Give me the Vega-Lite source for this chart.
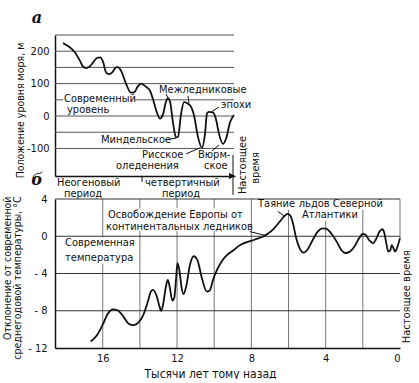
{
  "$schema": "https://vega.github.io/schema/vega-lite/v6.json",
  "padding": {"left": 2, "top": 10, "right": 0, "bottom": 0},
  "bounds": "flush",
  "spacing": 23,
  "config": {
    "view": {"stroke": null},
    "font": "DejaVu Sans Condensed, Liberation Sans Narrow, DejaVu Sans, sans-serif",
    "axis": {"labelFontSize": 11, "labelColor": "#111", "titleFontSize": 10.5, "titleFontWeight": "normal", "titleColor": "#111", "domainColor": "#111", "domainWidth": 1.5, "ticks": false, "grid": false},
    "text": {"fontSize": 11, "color": "#111"}
  },
  "datasets": {
    "seaGrid": [
      {"x": 0, "x2": 179, "y": 250}, {"x": 0, "x2": 179, "y": 200}, {"x": 0, "x2": 179, "y": 150},
      {"x": 0, "x2": 179, "y": 100}, {"x": 0, "x2": 8, "y": 50}, {"x": 80, "x2": 179, "y": 50},
      {"x": 0, "x2": 179, "y": 0}, {"x": 0, "x2": 179, "y": -50}, {"x": 0, "x2": 179, "y": -100}
    ],
    "sea": [
      {"x": 8, "y": 225}, {"x": 14, "y": 214}, {"x": 20, "y": 196}, {"x": 25, "y": 170}, {"x": 28, "y": 153},
      {"x": 31, "y": 148}, {"x": 34, "y": 151}, {"x": 38, "y": 165}, {"x": 42, "y": 179}, {"x": 45, "y": 181},
      {"x": 48, "y": 168}, {"x": 51, "y": 135}, {"x": 54, "y": 129}, {"x": 57, "y": 134}, {"x": 61, "y": 150},
      {"x": 63, "y": 151}, {"x": 66, "y": 140}, {"x": 71, "y": 100}, {"x": 76, "y": 72}, {"x": 79, "y": 73},
      {"x": 83, "y": 92}, {"x": 86, "y": 100}, {"x": 89, "y": 95}, {"x": 92, "y": 88}, {"x": 95, "y": 78},
      {"x": 98, "y": 52}, {"x": 102, "y": 10}, {"x": 105, "y": -8}, {"x": 108, "y": 5}, {"x": 111, "y": 45},
      {"x": 113, "y": 55}, {"x": 115, "y": 45}, {"x": 118, "y": -20}, {"x": 121, "y": -66}, {"x": 123, "y": -64},
      {"x": 126, "y": 5}, {"x": 129, "y": 43}, {"x": 133, "y": 38}, {"x": 136, "y": 29}, {"x": 139, "y": 2},
      {"x": 143, "y": -65}, {"x": 147, "y": -98}, {"x": 150, "y": -55}, {"x": 152, "y": 8}, {"x": 154, "y": 13},
      {"x": 158, "y": 11}, {"x": 161, "y": -10}, {"x": 164, "y": -55}, {"x": 168, "y": -86}, {"x": 171, "y": -70},
      {"x": 175, "y": -20}, {"x": 179, "y": 3}
    ],
    "seaLeaders": [
      {"x": 111, "y": 68, "x2": 113, "y2": 56},
      {"x": 133, "y": 62, "x2": 134, "y2": 39},
      {"x": 164, "y": 28, "x2": 157, "y2": 14},
      {"x": 110, "y": -74, "x2": 121, "y2": -68},
      {"x": 131, "y": -117, "x2": 145, "y2": -98},
      {"x": 157, "y": -108, "x2": 164, "y2": -89},
      {"x": 87, "y": -188, "x2": 87, "y2": -203},
      {"x": 178, "y": -120, "x2": 178, "y2": -243}
    ],
    "seaText": [
      {"x": 9, "y": 53.8, "text": "Современный"},
      {"x": 12, "y": 20, "text": "уровень"},
      {"x": 104, "y": 80, "text": "Межледниковые"},
      {"x": 166, "y": 34, "text": "эпохи"},
      {"x": 46, "y": -74, "text": "Миндельское"},
      {"x": 87, "y": -121.5, "text": "Рисское"},
      {"x": 61, "y": -155.4, "text": "оледенения"},
      {"x": 143, "y": -121.5, "text": "Вюрм-"},
      {"x": 149, "y": -155.4, "text": "ское"},
      {"x": 2, "y": -207.7, "text": "Неогеновый"},
      {"x": 9, "y": -241.5, "text": "период"},
      {"x": 90, "y": -207.7, "text": "четвертичный"},
      {"x": 107, "y": -241.5, "text": "период"}
    ],
    "seaNow": [
      {"x": 188, "y": -151, "text": "Настоящее"},
      {"x": 201, "y": -160, "text": "время"}
    ],
    "letters": [
      {"x": -18, "y": 301, "text": "а"},
      {"x": -18, "y": -197, "text": "б"}
    ],
    "arrow": [{"x": 177, "y": -185}],
    "tHGrid": [
      {"x": 18.57, "x2": 0, "y": 4}, {"x": 18.57, "x2": 0, "y": 0},
      {"x": 18.57, "x2": 0, "y": -4}, {"x": 18.57, "x2": 0, "y": -8}
    ],
    "tVGrid": [
      {"x": 16, "y": -12, "y2": -3.0}, {"x": 16, "y": -0.15, "y2": 4},
      {"x": 14, "y": -12, "y2": 0.55}, {"x": 14, "y": 3.0, "y2": 4},
      {"x": 12, "y": -12, "y2": 0.55}, {"x": 12, "y": 3.0, "y2": 4},
      {"x": 10, "y": -12, "y2": 0.55}, {"x": 10, "y": 3.0, "y2": 4},
      {"x": 8, "y": -12, "y2": 4},
      {"x": 6, "y": -12, "y2": 2.85},
      {"x": 4, "y": -12, "y2": 1.65},
      {"x": 2, "y": -12, "y2": 2.85},
      {"x": 0, "y": -0.2, "y2": 4}
    ],
    "temp": [
      {"x": 16.65, "y": -11.3}, {"x": 16.3, "y": -10.6}, {"x": 16.0, "y": -9.5}, {"x": 15.75, "y": -8.4},
      {"x": 15.45, "y": -7.85}, {"x": 15.2, "y": -7.95}, {"x": 14.9, "y": -8.6}, {"x": 14.6, "y": -9.4},
      {"x": 14.35, "y": -9.55}, {"x": 14.1, "y": -9.3}, {"x": 13.85, "y": -8.6}, {"x": 13.6, "y": -7.2},
      {"x": 13.4, "y": -5.9}, {"x": 13.3, "y": -5.75}, {"x": 13.1, "y": -6.4}, {"x": 12.95, "y": -7.5},
      {"x": 12.85, "y": -8.0}, {"x": 12.75, "y": -7.3}, {"x": 12.6, "y": -5.4}, {"x": 12.5, "y": -4.7},
      {"x": 12.4, "y": -5.4}, {"x": 12.25, "y": -6.9}, {"x": 12.15, "y": -6.6}, {"x": 12.05, "y": -4.5},
      {"x": 11.98, "y": -2.9}, {"x": 11.88, "y": -3.6}, {"x": 11.75, "y": -5.6}, {"x": 11.65, "y": -6.2},
      {"x": 11.5, "y": -5.3}, {"x": 11.3, "y": -3.0}, {"x": 11.1, "y": -2.15}, {"x": 10.9, "y": -2.6},
      {"x": 10.65, "y": -4.6}, {"x": 10.4, "y": -5.95}, {"x": 10.25, "y": -5.85}, {"x": 10.05, "y": -4.6},
      {"x": 9.85, "y": -3.6}, {"x": 9.6, "y": -2.7}, {"x": 9.3, "y": -2.0}, {"x": 9.0, "y": -1.55},
      {"x": 8.6, "y": -0.95}, {"x": 8.2, "y": -0.6}, {"x": 7.8, "y": -0.35}, {"x": 7.4, "y": -0.05},
      {"x": 7.1, "y": 0.3}, {"x": 6.8, "y": 0.8}, {"x": 6.5, "y": 1.5}, {"x": 6.25, "y": 2.1},
      {"x": 6.05, "y": 2.4}, {"x": 5.9, "y": 2.2}, {"x": 5.75, "y": 1.3}, {"x": 5.6, "y": -0.1},
      {"x": 5.4, "y": -1.3}, {"x": 5.2, "y": -1.75}, {"x": 5.0, "y": -1.5}, {"x": 4.75, "y": -0.6},
      {"x": 4.45, "y": 0.45}, {"x": 4.15, "y": 0.85}, {"x": 3.95, "y": 0.8}, {"x": 3.7, "y": 0.3},
      {"x": 3.4, "y": -0.6}, {"x": 3.15, "y": -1.5}, {"x": 2.95, "y": -1.8}, {"x": 2.7, "y": -1.65},
      {"x": 2.45, "y": -1.1}, {"x": 2.2, "y": -0.2}, {"x": 2.0, "y": 0.25}, {"x": 1.85, "y": 0.15},
      {"x": 1.65, "y": -0.45}, {"x": 1.45, "y": -0.75}, {"x": 1.3, "y": -0.35}, {"x": 1.1, "y": 0.5},
      {"x": 0.95, "y": 0.75}, {"x": 0.85, "y": 0.4}, {"x": 0.75, "y": -0.6}, {"x": 0.63, "y": -1.65},
      {"x": 0.52, "y": -1.5}, {"x": 0.45, "y": -0.95}, {"x": 0.37, "y": -1.2}, {"x": 0.27, "y": -1.65},
      {"x": 0.15, "y": -1.2}, {"x": 0.0, "y": -0.2}
    ],
    "tLeaders": [
      {"x": 8.08, "y": 0.5, "x2": 7.27, "y2": 0.1},
      {"x": 6.57, "y": 2.66, "x2": 6.19, "y2": 2.1}
    ],
    "tText": [
      {"x": 18.03, "y": -0.68, "text": "Современная"},
      {"x": 18.03, "y": -2.29, "text": "температура"},
      {"x": 15.72, "y": 2.33, "text": "Освобождение Европы от"},
      {"x": 15.83, "y": 1.04, "text": "континентальных ледников"},
      {"x": 7.64, "y": 3.41, "text": "Таяние"},
      {"x": 5.45, "y": 3.41, "text": "льдов Северной"},
      {"x": 5.28, "y": 2.23, "text": "Атлантики"}
    ],
    "tNow": [{"x": -0.38, "y": -6.5, "text": "Настоящее время"}]
  },
  "vconcat": [
    {
      "width": 180,
      "height": 141,
      "encoding": {
        "x": {"field": "x", "type": "quantitative", "scale": {"domain": [0, 180], "nice": false, "zero": false},
              "axis": {"title": null, "labels": false, "orient": "bottom"}},
        "y": {"field": "y", "type": "quantitative", "scale": {"domain": [-185, 250], "nice": false, "zero": false},
              "axis": {"title": "Положение уровня моря, м", "values": [-100, 0, 100, 200], "labelPadding": 6,
                       "labelExpr": "datum.value < 0 ? '-' + abs(datum.value) : datum.label",
                       "titleAngle": 270, "titleX": -39.5, "titleY": 75, "titleBaseline": "top", "titleAlign": "center"}}
      },
      "layer": [
        {"data": {"name": "seaGrid"}, "mark": {"type": "rule", "color": "#555", "strokeWidth": 1}, "encoding": {"x2": {"field": "x2"}}},
        {"data": {"name": "sea"}, "mark": {"type": "line", "interpolate": "monotone", "color": "#111", "strokeWidth": 1.8}, "encoding": {}},
        {"data": {"name": "seaLeaders"}, "mark": {"type": "rule", "color": "#111", "strokeWidth": 1}, "encoding": {"x2": {"field": "x2"}, "y2": {"field": "y2"}}},
        {"data": {"name": "arrow"}, "mark": {"type": "point", "shape": "triangle-right", "filled": true, "color": "#111", "size": 45, "opacity": 1}, "encoding": {}},
        {"data": {"name": "seaText"}, "mark": {"type": "text", "align": "left", "baseline": "middle"}, "encoding": {"text": {"field": "text"}}},
        {"data": {"name": "seaNow"}, "mark": {"type": "text", "align": "center", "baseline": "middle", "angle": 270}, "encoding": {"text": {"field": "text"}}},
        {"data": {"name": "letters"}, "mark": {"type": "text", "align": "center", "baseline": "middle", "font": "DejaVu Serif", "fontStyle": "italic", "fontWeight": "bold", "fontSize": 16}, "encoding": {"text": {"field": "text"}}}
      ]
    },
    {
      "width": 345,
      "height": 149,
      "encoding": {
        "x": {"field": "x", "type": "quantitative", "scale": {"domain": [18.57, 0], "nice": false, "zero": false},
              "axis": {"title": "Тысячи  лет тому назад", "values": [16, 12, 8, 4, 0], "labelPadding": 4, "titleFontSize": 12,
                       "titleX": 155, "titleY": 25, "titleBaseline": "middle"}},
        "y": {"field": "y", "type": "quantitative", "scale": {"domain": [-12, 4], "nice": false, "zero": false},
              "axis": {"title": ["Отклонение от современной", "среднегодовой температуры, °C"], "values": [4, 0, -4, -8, -12], "labelPadding": 8,
                       "labelExpr": "datum.value < 0 ? '- ' + abs(datum.value) : datum.label",
                       "titleAngle": 270, "titleX": -53, "titleY": -3, "titleBaseline": "top", "titleAlign": "right", "titleLineHeight": 10.5}}
      },
      "layer": [
        {"data": {"name": "tVGrid"}, "mark": {"type": "rule", "color": "#777", "strokeWidth": 1}, "encoding": {"y2": {"field": "y2"}}},
        {"data": {"name": "tHGrid"}, "mark": {"type": "rule", "color": "#333", "strokeWidth": 1}, "encoding": {"x2": {"field": "x2"}}},
        {"data": {"name": "temp"}, "mark": {"type": "line", "interpolate": "monotone", "color": "#111", "strokeWidth": 1.8}, "encoding": {}},
        {"data": {"name": "tLeaders"}, "mark": {"type": "rule", "color": "#111", "strokeWidth": 1}, "encoding": {"x2": {"field": "x2"}, "y2": {"field": "y2"}}},
        {"data": {"name": "tText"}, "mark": {"type": "text", "align": "left", "baseline": "middle"}, "encoding": {"text": {"field": "text"}}},
        {"data": {"name": "tNow"}, "mark": {"type": "text", "align": "center", "baseline": "middle", "angle": 270}, "encoding": {"text": {"field": "text"}}}
      ]
    }
  ]
}
